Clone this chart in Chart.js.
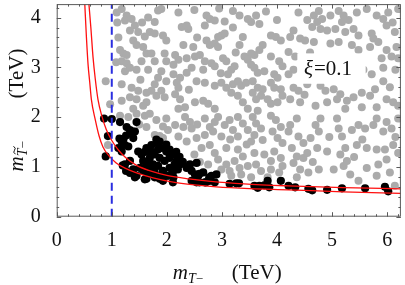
<!DOCTYPE html>
<html>
<head>
<meta charset="utf-8">
<script src="https://cdn.jsdelivr.net/npm/chart.js@4.4.1/dist/chart.umd.min.js"></script>
<style>
  html, body { margin: 0; padding: 0; background: #fff; }
  #wrap { width: 405px; height: 285px; }
</style>
</head>
<body>
<div id="wrap"><canvas id="chart" width="405" height="285"></canvas></div>
<script>
// axis ranges and ticks
const xRange = [0, 6.25];
const yRange = [0, 4.27];
const xTicks = [0, 1, 2, 3, 4, 5, 6];
const yTicks = [0, 1, 2, 3, 4];
const cutX = 1;
const xiText = '=0.1';

// scan points (grey: all, black: allowed)
const grayPoints = [
  [1.09,4.10],[1.18,4.17],[1.27,4.04],[1.24,3.94],[1.36,3.97],[1.42,3.84],[1.33,3.74],[1.48,3.71],[1.84,4.14],[1.90,4.17],
  [1.66,4.00],[1.78,3.91],[1.69,3.71],[1.78,3.68],[1.93,3.64],[1.99,3.54],[1.39,3.54],[1.45,3.45],[1.57,3.41],[1.63,3.28],
  [1.72,3.28],[1.96,3.28],[1.15,3.35],[1.21,3.28],[1.27,3.25],[1.18,3.12],[1.27,3.08],[1.24,2.92],[1.33,2.99],[1.54,3.12],
  [1.78,3.12],[1.99,3.12],[1.45,2.95],[1.66,2.95],[1.90,2.92],[1.84,2.79],[1.99,2.72],[1.78,2.66],[1.72,2.53],[1.90,2.53],
  [1.18,2.66],[1.36,2.59],[1.48,2.53],[1.63,2.49],[0.89,2.72],[0.97,2.26],[1.18,2.33],[1.33,2.40],[1.45,2.36],[1.63,2.30],
  [1.81,2.43],[1.96,2.40],[1.39,2.17],[1.57,2.23],[1.10,3.90],[1.12,3.60],[1.55,3.90],[1.60,3.62],[1.08,3.10],[1.52,2.75],
  [2.21,4.10],[2.72,4.04],[2.78,3.97],[2.87,3.94],[3.20,4.13],[3.32,4.04],[3.47,3.97],[3.53,3.91],[3.62,4.04],[3.68,3.87],
  [2.27,3.81],[2.39,3.77],[2.36,3.84],[2.69,3.84],[2.99,3.64],[3.05,3.68],[2.93,3.61],[3.38,3.61],[2.72,3.54],[2.78,3.45],
  [2.87,3.48],[2.93,3.41],[3.89,3.64],[3.98,3.61],[4.07,3.54],[2.30,3.45],[2.48,3.41],[3.32,3.45],[3.74,3.45],[3.68,3.35],
  [3.59,3.25],[3.53,3.28],[2.15,3.25],[2.21,3.15],[2.12,3.05],[2.36,3.18],[2.51,3.22],[2.60,3.25],[2.69,3.12],[2.81,3.08],
  [2.87,3.02],[2.45,2.99],[2.66,2.95],[3.02,3.18],[3.08,3.12],[3.41,3.22],[3.47,3.15],[3.53,3.05],[3.89,3.22],[4.04,3.12],
  [4.10,3.02],[2.12,2.86],[2.24,2.79],[2.36,2.89],[3.23,3.02],[3.17,2.95],[3.11,2.86],[3.59,2.99],[3.65,2.89],[3.77,2.92],
  [3.95,2.86],[4.01,2.79],[2.18,2.69],[2.21,2.59],[2.15,2.46],[2.24,2.36],[2.54,2.72],[2.69,2.69],[2.87,2.63],[2.99,2.69],
  [3.08,2.59],[3.20,2.66],[3.29,2.72],[3.35,2.63],[3.44,2.69],[3.56,2.72],[3.65,2.59],[3.74,2.56],[3.71,2.43],[3.56,2.49],
  [3.62,2.36],[3.89,2.69],[3.95,2.59],[4.07,2.56],[4.10,2.43],[3.17,2.49],[3.29,2.43],[3.38,2.30],[3.83,2.36],[3.89,2.27],
  [4.01,2.30],[2.51,2.30],[2.66,2.33],[2.75,2.27],[2.87,2.17],[2.33,2.20],[2.21,2.17],[3.47,2.17],[3.65,2.13],
  [2.50,4.15],[2.95,4.18],[3.05,3.92],[3.80,4.12],[4.00,3.95],[2.55,3.60],[3.20,3.80],[3.25,3.30],[2.98,2.88],[2.40,2.55],
  [4.39,4.10],[4.67,4.04],[4.76,4.13],[4.82,3.97],[4.73,3.91],[4.97,4.04],[5.12,4.13],[5.21,4.04],[5.18,3.91],[5.45,4.10],
  [5.63,4.17],[5.81,4.04],[5.93,3.97],[6.02,4.10],[6.20,4.17],[4.30,3.74],[4.64,3.81],[4.79,3.77],[4.91,3.74],[5.06,3.77],
  [5.24,3.71],[5.39,3.77],[5.48,3.64],[5.72,3.68],[5.75,3.58],[5.99,3.84],[6.14,3.71],[4.24,3.61],[4.42,3.58],[4.51,3.54],
  [4.67,3.51],[4.97,3.48],[5.12,3.51],[5.36,3.45],[5.48,3.35],[5.69,3.41],[5.84,3.51],[5.99,3.35],[6.17,3.41],[4.21,3.31],
  [4.33,3.22],[5.90,3.18],[6.08,3.22],[6.20,3.18],[4.30,2.95],[4.21,2.86],[5.57,2.95],[5.93,2.99],[5.72,2.86],[4.30,2.59],
  [4.39,2.53],[4.55,2.66],[4.79,2.63],[4.88,2.53],[5.03,2.56],[5.15,2.46],[5.09,2.36],[4.24,2.36],[4.42,2.30],[4.70,2.23],
  [4.91,2.30],[5.27,2.33],[5.39,2.40],[5.54,2.49],[5.69,2.43],[5.78,2.56],[5.93,2.72],[5.99,2.36],[6.11,2.30],[6.20,2.23],
  [5.81,2.20],[5.54,2.20],[5.24,2.17],[4.55,3.95],[5.30,3.95],[6.10,3.90],[4.60,3.30],[6.15,2.95],[6.05,2.60],[4.50,2.45],
  [1.15,2.03],[1.30,2.00],[1.45,2.07],[1.60,2.03],[1.69,2.07],[1.81,1.94],[1.99,1.97],[1.78,1.64],[1.93,1.58],[2.02,1.74],
  [0.93,1.44],[1.63,1.80],[1.50,1.85],[1.93,1.81],[1.87,1.62],
  [2.33,2.00],[2.42,1.90],[2.30,1.80],[2.15,1.84],[2.45,1.77],[2.69,1.97],[2.78,1.80],[2.87,1.90],[2.93,2.00],[3.05,1.84],
  [3.14,1.94],[3.29,2.00],[3.38,1.87],[3.56,2.00],[3.62,1.87],[3.71,1.77],[3.89,2.03],[3.98,1.94],[4.07,1.80],[3.92,1.71],
  [2.21,1.61],[2.36,1.51],[2.54,1.58],[2.69,1.64],[2.84,1.71],[2.99,1.61],[3.20,1.74],[3.29,1.61],[3.47,1.74],[3.59,1.64],
  [3.53,1.51],[3.74,1.54],[4.01,1.58],[4.10,1.48],[2.63,1.38],[2.78,1.44],[2.87,1.28],[3.08,1.38],[3.29,1.35],[3.38,1.21],
  [3.23,1.12],[3.59,1.28],[3.77,1.25],[3.95,1.31],[4.07,1.18],[3.89,1.12],[2.93,1.15],[3.08,1.05],[2.99,0.95],[3.14,0.92],
  [3.32,0.98],[3.47,1.02],[3.62,1.05],[3.71,0.92],[3.89,0.95],[4.04,0.89],[4.10,1.02],[3.17,0.82],[3.35,0.85],[3.53,0.79],
  [3.83,0.79],[2.50,1.25],[2.60,1.10],[2.75,1.05],[3.45,1.45],[2.55,1.85],[3.15,1.55],
  [4.24,1.84],[4.36,1.97],[4.21,1.71],[4.39,1.61],[4.48,1.48],[4.61,1.58],[4.70,1.84],[4.76,1.71],[4.79,1.97],[5.09,1.97],
  [5.12,1.77],[5.18,1.61],[5.36,1.74],[5.48,1.84],[5.60,1.77],[5.75,1.84],[5.81,1.97],[5.93,1.71],[5.99,1.90],[6.08,1.77],
  [6.20,1.97],[4.27,1.38],[4.36,1.21],[4.48,1.18],[4.30,1.08],[4.55,1.28],[4.73,1.38],[4.91,1.31],[5.15,1.25],[5.24,1.38],
  [5.27,1.12],[5.45,1.44],[5.63,1.38],[5.81,1.35],[5.96,1.35],[6.11,1.44],[6.20,1.28],[4.42,0.95],[4.57,0.89],[4.36,0.79],
  [4.76,0.95],[5.03,0.95],[5.21,1.02],[5.33,0.85],[5.48,0.72],[5.63,0.98],[5.81,0.82],[5.84,1.05],[5.99,1.15],[6.14,0.62],
  [6.05,0.89],[4.95,1.60],[5.55,1.55],[6.15,1.60],[4.65,1.10],[5.40,1.20]
];

const blackPoints = [
  [0.86,1.97],[1.00,1.96],[1.15,1.90],[1.27,1.80],[1.45,1.90],[0.93,1.62],[0.89,1.21],[1.14,1.57],[1.26,1.63],[1.38,1.71],
  [1.18,1.51],[1.36,1.67],[1.42,1.71],[1.39,1.58],[1.24,1.44],[1.12,1.38],[1.18,1.31],[1.30,1.41],[1.33,1.74],[1.21,1.55],
  [1.24,1.05],[1.33,1.12],[1.39,0.95],[1.45,0.82],[1.20,1.03],[1.42,0.79],[1.33,0.88],[1.26,0.92],
  [1.60,0.75],[1.78,0.79],[1.93,0.72],[1.63,0.76],[1.87,0.76],[2.11,0.69],
  [1.54,1.25],[1.63,1.38],[1.72,1.44],[1.81,1.48],[1.90,1.38],[1.99,1.31],[1.57,1.12],[1.69,1.18],[1.78,1.25],[1.87,1.18],
  [1.96,1.12],[2.05,1.18],[1.51,0.98],[1.63,1.02],[1.72,0.95],[1.84,1.02],[1.93,0.92],[2.05,0.98],[1.66,0.85],[1.78,0.89],
  [1.90,0.82],[2.02,0.82],[1.48,1.31],[1.72,1.31],[1.84,1.35],[1.81,1.55],[1.87,1.51],[1.99,1.45],[2.05,1.35],[2.17,1.30],
  [2.23,1.20],[2.29,1.10],[2.05,1.25],[1.60,1.30],[1.66,1.10],[1.75,1.05],[1.57,0.92],[2.14,1.05],[2.11,0.90],[2.20,0.95],
  [2.12,1.25],[2.18,1.12],[2.24,1.05],[2.36,0.98],[2.42,1.05],[2.54,1.08],[2.45,0.92],[2.51,0.85],[2.57,0.82],[2.66,0.89],
  [2.45,0.72],[2.54,0.69],[2.69,0.69],[2.78,0.72],[2.81,0.82],[2.90,0.85],[2.87,0.69],[2.12,0.79],[2.59,0.86],[2.77,0.79],
  [2.59,0.69],[2.71,0.69],[3.14,0.66],[3.26,0.67],[3.31,0.67],[3.59,0.62],[3.65,0.58],[3.68,0.62],[3.77,0.63],[3.83,0.72],
  [3.86,0.59],[4.07,0.72],[4.21,0.62],[4.33,0.59],[4.57,0.56],[4.64,0.53],[4.91,0.54],[5.18,0.57],[5.60,0.57],[5.96,0.60],
  [6.02,0.51]
];

// bound curves
const upperCurve = [
  [0.585,4.27],[0.62,3.80],[0.66,3.20],[0.70,2.77],[0.75,2.35],[0.82,2.02],[0.90,1.75],[1.00,1.53],[1.12,1.34],[1.25,1.19],
  [1.45,1.03],[1.70,0.92],[2.00,0.83],[2.40,0.76],[2.80,0.71],[3.40,0.66],[4.20,0.62],[5.20,0.585],[6.25,0.56]
];
const lowerCurve = [
  [0.51,4.27],[0.54,3.60],[0.57,3.05],[0.60,2.70],[0.63,2.35],[0.70,1.95],[0.77,1.62],[0.84,1.40],[0.95,1.22],[1.08,1.08],
  [1.25,0.97],[1.45,0.88],[1.75,0.78],[2.09,0.70],[2.50,0.64],[2.90,0.60],[3.50,0.565],[4.20,0.54],[5.20,0.50],[6.25,0.47]
];

const toXY = arr => arr.map(p => ({ x: p[0], y: p[1] }));
const SERIF = "'Liberation Serif', 'Times New Roman', serif";

const framePlugin = {
  id: 'frame',
  afterDatasetsDraw(chart) {
    const { ctx, chartArea: a, scales: { x, y } } = chart;
    ctx.save();

    // label box
    const bx0 = x.getPixelForValue(4.37), bx1 = x.getPixelForValue(5.61);
    const by0 = y.getPixelForValue(3.28), by1 = y.getPixelForValue(2.67);
    ctx.fillStyle = '#fff';
    ctx.fillRect(bx0, by0, bx1 - bx0, by1 - by0);
    ctx.fillStyle = '#111';
    ctx.textBaseline = 'alphabetic';
    ctx.textAlign = 'left';
    let tx = x.getPixelForValue(4.49), ty = y.getPixelForValue(2.85);
    ctx.font = 'italic 21px ' + SERIF;
    ctx.fillText('ξ', tx, ty);
    tx += ctx.measureText('ξ').width + 1;
    ctx.font = '21px ' + SERIF;
    ctx.fillText(xiText, tx, ty);

    // frame
    ctx.strokeStyle = '#5a5a5a';
    ctx.lineWidth = 1;
    ctx.strokeRect(a.left + 0.5, a.top + 0.5, a.right - a.left - 1, a.bottom - a.top - 1);

    // ticks, pointing inward on all four sides
    ctx.beginPath();
    for (let i = 0; i * 0.2 <= xRange[1] + 1e-9; i++) {
      const px = Math.round(x.getPixelForValue(i * 0.2)) + 0.5;
      const len = i % 5 === 0 ? 4.5 : 2.5;
      ctx.moveTo(px, a.bottom); ctx.lineTo(px, a.bottom - len);
      ctx.moveTo(px, a.top); ctx.lineTo(px, a.top + len);
    }
    for (let i = 0; i * 0.2 <= yRange[1] + 1e-9; i++) {
      const py = Math.round(y.getPixelForValue(i * 0.2)) + 0.5;
      const len = i % 5 === 0 ? 4.5 : 2.5;
      ctx.moveTo(a.left, py); ctx.lineTo(a.left + len, py);
      ctx.moveTo(a.right, py); ctx.lineTo(a.right - len, py);
    }
    ctx.stroke();
    ctx.restore();
  },
  afterDraw(chart) {
    const { ctx, chartArea: a } = chart;
    ctx.save();
    ctx.fillStyle = '#111';
    ctx.textBaseline = 'alphabetic';
    ctx.textAlign = 'left';

    // x title: m_{T-}   (TeV)
    const cx = (a.left + a.right) / 2;
    let px = cx - 56, base = 279;
    ctx.font = 'italic 21px ' + SERIF;
    ctx.fillText('m', px, base);
    px += ctx.measureText('m').width;
    ctx.font = 'italic 14px ' + SERIF;
    ctx.fillText('T', px, base + 4);
    px += ctx.measureText('T').width;
    ctx.font = '13px ' + SERIF;
    ctx.fillText('\u2212', px, base + 4);
    ctx.font = '21px ' + SERIF;
    ctx.fillText('(TeV)', cx + 3, base);

    // y title: m_{T~-}   (TeV), rotated
    const cy = (a.top + a.bottom) / 2;
    ctx.translate(23, cy);
    ctx.rotate(-Math.PI / 2);
    let qx = -61;
    ctx.font = 'italic 21px ' + SERIF;
    ctx.fillText('m', qx, 0);
    qx += ctx.measureText('m').width;
    ctx.font = 'italic 14px ' + SERIF;
    ctx.fillText('T', qx, 4);
    const tw = ctx.measureText('T').width;
    // tilde over T
    ctx.strokeStyle = '#111';
    ctx.lineWidth = 1;
    ctx.beginPath();
    const tx0 = qx + 2, ty0 = -8.5;
    ctx.moveTo(tx0, ty0 + 1);
    ctx.quadraticCurveTo(tx0 + 2, ty0 - 2, tx0 + 4, ty0);
    ctx.quadraticCurveTo(tx0 + 6, ty0 + 2, tx0 + 8, ty0 - 1);
    ctx.stroke();
    qx += tw;
    ctx.font = '13px ' + SERIF;
    ctx.fillText('\u2212', qx, 4);
    ctx.font = '21px ' + SERIF;
    ctx.fillText('(TeV)', 12, 0);
    ctx.restore();
  }
};

new Chart(document.getElementById('chart'), {
  type: 'scatter',
  data: {
    datasets: [
      {
        data: toXY([[cutX, yRange[0]], [cutX, yRange[1]]]),
        showLine: true, pointRadius: 0, borderColor: '#2a2ee0', borderWidth: 2,
        borderDash: [8, 5], order: 0, clip: 0
      },
      {
        data: toXY(upperCurve), showLine: true, pointRadius: 0, borderColor: '#ff1010',
        borderWidth: 1.3, cubicInterpolationMode: 'monotone', order: 1, clip: 0
      },
      {
        data: toXY(lowerCurve), showLine: true, pointRadius: 0, borderColor: '#ff1010',
        borderWidth: 1.3, cubicInterpolationMode: 'monotone', order: 1, clip: 0
      },
      {
        data: toXY(blackPoints), pointRadius: 4.1, backgroundColor: '#000',
        borderWidth: 0, order: 2, clip: 0
      },
      {
        data: toXY(grayPoints), pointRadius: 4.0, backgroundColor: '#ababab',
        borderWidth: 0, order: 3, clip: 0
      }
    ]
  },
  options: {
    responsive: false,
    animation: false,
    events: [],
    devicePixelRatio: 1,
    layout: { padding: { left: 0, right: 2.3, top: 1.7, bottom: 0 } },
    plugins: { legend: { display: false }, tooltip: { enabled: false } },
    scales: {
      x: {
        type: 'linear', min: xRange[0], max: xRange[1],
        grid: { display: false }, border: { display: false },
        afterFit: s => { s.height = 285 - 216.7; s.paddingLeft = 0; s.paddingRight = 0; },
        afterBuildTicks: s => { s.ticks = xTicks.map(v => ({ value: v })); },
        ticks: { font: { family: SERIF, size: 20 }, color: '#111', padding: 4, maxRotation: 0 }
      },
      y: {
        type: 'linear', min: yRange[0], max: yRange[1],
        grid: { display: false }, border: { display: false },
        afterFit: s => { s.width = 56.7; s.paddingTop = 0; s.paddingBottom = 0; },
        afterBuildTicks: s => { s.ticks = yTicks.map(v => ({ value: v })); },
        ticks: { font: { family: SERIF, size: 20 }, color: '#111', padding: 8 }
      }
    }
  },
  plugins: [framePlugin]
});
</script>
</body>
</html>
